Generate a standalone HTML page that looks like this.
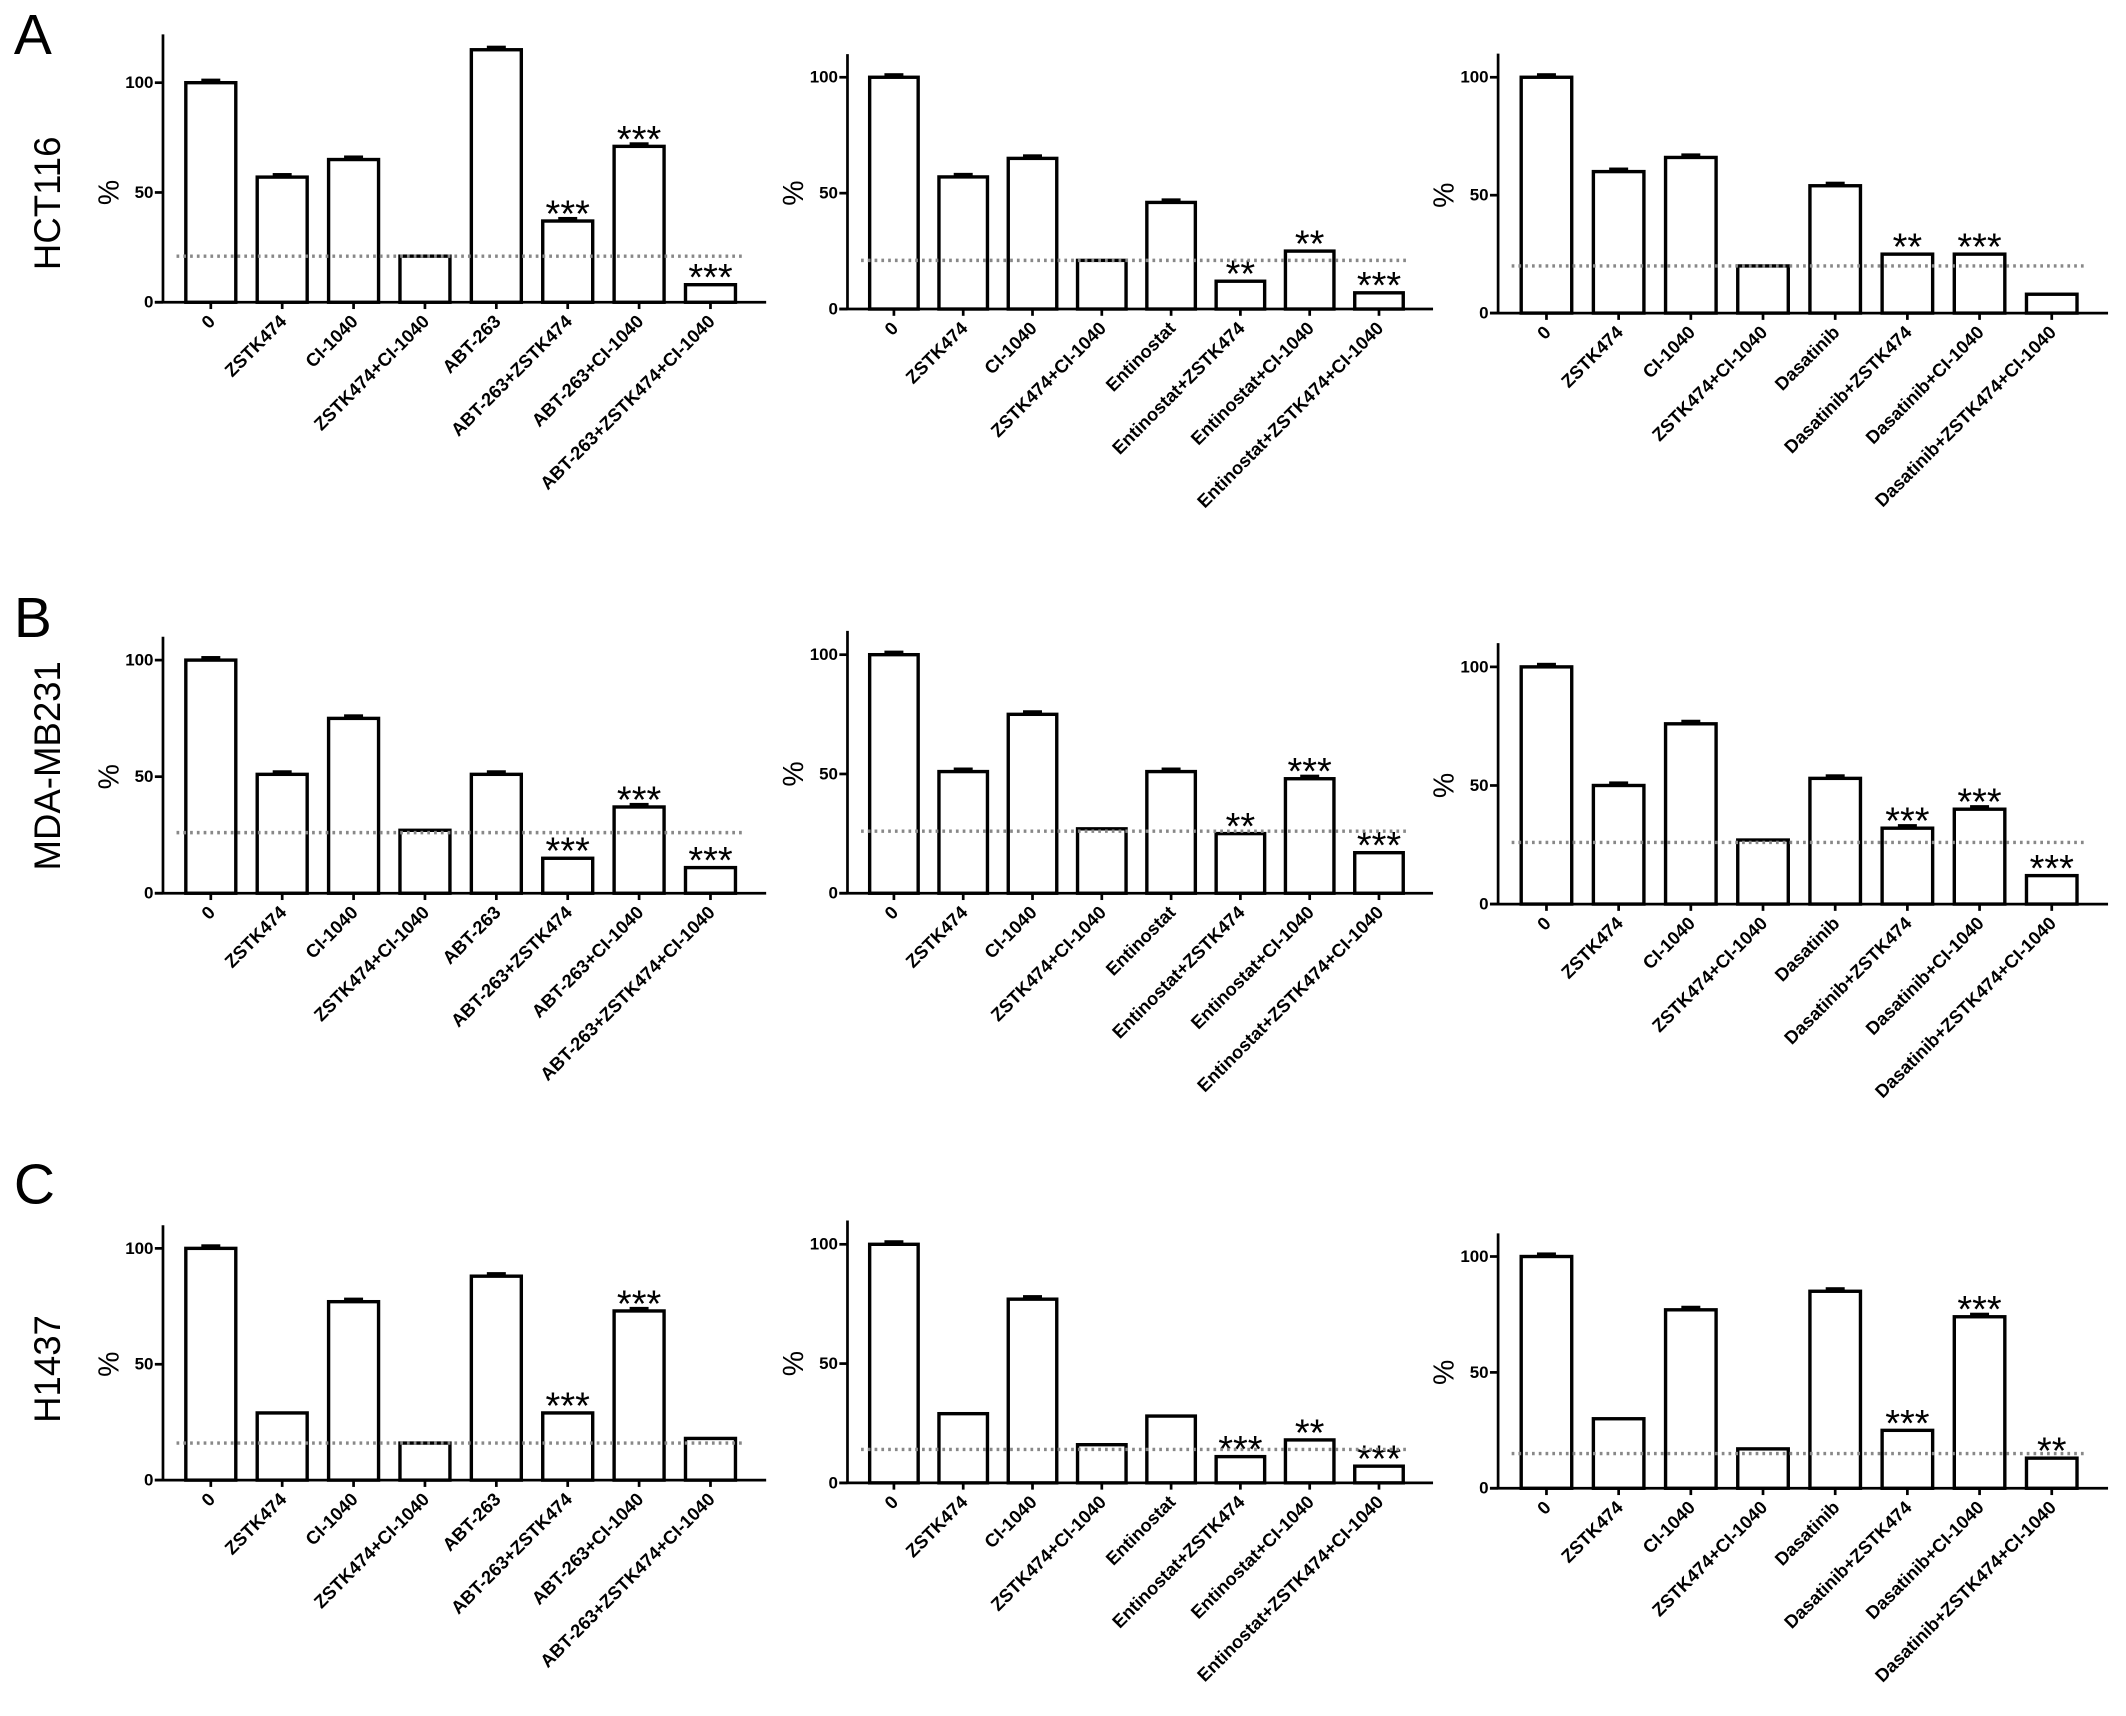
<!DOCTYPE html>
<html><head><meta charset="utf-8">
<style>html,body{margin:0;padding:0;background:#fff}svg{display:block}</style>
</head><body>
<svg id="fig" width="2126" height="1716" viewBox="0 0 1568 1266" xmlns="http://www.w3.org/2000/svg" font-family="Liberation Sans, sans-serif">
<rect width="1568" height="1266" fill="#fff"/>
<text x="10" y="40" font-size="42">A</text>
<text x="10" y="470" font-size="42">B</text>
<text x="10" y="888" font-size="42">C</text>
<text transform="translate(44,150) rotate(-90)" text-anchor="middle" font-size="27">HCT116</text>
<text transform="translate(44,565) rotate(-90)" text-anchor="middle" font-size="27">MDA-MB231</text>
<text transform="translate(44,1010) rotate(-90)" text-anchor="middle" font-size="27">H1437</text>
</svg>
<script>
const catsABT = ["0","ZSTK474","CI-1040","ZSTK474+CI-1040","ABT-263","ABT-263+ZSTK474","ABT-263+CI-1040","ABT-263+ZSTK474+CI-1040"];
const catsEnt = ["0","ZSTK474","CI-1040","ZSTK474+CI-1040","Entinostat","Entinostat+ZSTK474","Entinostat+CI-1040","Entinostat+ZSTK474+CI-1040"];
const catsDas = ["0","ZSTK474","CI-1040","ZSTK474+CI-1040","Dasatinib","Dasatinib+ZSTK474","Dasatinib+CI-1040","Dasatinib+ZSTK474+CI-1040"];
const yTicks = [0, 50, 100];

const valsA1 = [100,57,65,21,115,37,71,8];
const valsA2 = [100,57,65,21,46,12,25,7];
const valsA3 = [100,60,66,20,54,25,25,8];
const valsB1 = [100,51,75,27,51,15,37,11];
const valsB2 = [100,51,75,27,51,25,48,17];
const valsB3 = [100,50,76,27,53,32,40,12];
const valsC1 = [100,29,77,16,88,29,73,18];
const valsC2 = [100,29,77,16,28,11,18,7];
const valsC3 = [100,30,77,17,85,25,74,13];

const starsA1 = ["","","","","","***","***","***"];
const starsA2 = ["","","","","","**","**","***"];
const starsA3 = ["","","","","","**","***",""];
const starsB1 = ["","","","","","***","***","***"];
const starsB2 = ["","","","","","**","***","***"];
const starsB3 = ["","","","","","***","***","***"];
const starsC1 = ["","","","","","***","***",""];
const starsC2 = ["","","","","","***","**","***"];
const starsC3 = ["","","","","","***","***","**"];

const thresholds = [21,21,20,26,26,26,16,14,15];

const svg = document.getElementById('fig');
const NS = 'http://www.w3.org/2000/svg';
function mk(tag, attrs, parent){const e=document.createElementNS(NS,tag);for(const k in attrs)e.setAttribute(k,attrs[k]);parent.appendChild(e);return e;}

const panels = [
 {id:'a1',ax:120,y0:223,y100:61,ymax:122,w:445,cats:catsABT,vals:valsA1,stars:starsA1,th:thresholds[0]},
 {id:'a2',ax:625,y0:228,y100:57,ymax:110,w:432,cats:catsEnt,vals:valsA2,stars:starsA2,th:thresholds[1]},
 {id:'a3',ax:1105,y0:231,y100:57,ymax:110,w:450,cats:catsDas,vals:valsA3,stars:starsA3,th:thresholds[2]},
 {id:'b1',ax:120,y0:659,y100:487,ymax:110,w:445,cats:catsABT,vals:valsB1,stars:starsB1,th:thresholds[3]},
 {id:'b2',ax:625,y0:659,y100:483,ymax:110,w:432,cats:catsEnt,vals:valsB2,stars:starsB2,th:thresholds[4]},
 {id:'b3',ax:1105,y0:667,y100:492,ymax:110,w:450,cats:catsDas,vals:valsB3,stars:starsB3,th:thresholds[5]},
 {id:'c1',ax:120,y0:1092,y100:921,ymax:110,w:445,cats:catsABT,vals:valsC1,stars:starsC1,th:thresholds[6]},
 {id:'c2',ax:625,y0:1094,y100:918,ymax:110,w:432,cats:catsEnt,vals:valsC2,stars:starsC2,th:thresholds[7]},
 {id:'c3',ax:1105,y0:1098,y100:927,ymax:110,w:450,cats:catsDas,vals:valsC3,stars:starsC3,th:thresholds[8]},
];

panels.forEach(p=>{
  const g = mk('g',{},svg);
  
  
  const y = v => p.y0 - (p.y0-p.y100)*v/100;
  const step = p.w/8.45;
  const x = i => p.ax + step*(0.67+i);
  const bw = step*0.7;
  const ya = mk('line',{x1:p.ax,y1:y(p.ymax),x2:p.ax,y2:p.y0,stroke:'#000','stroke-width':2},g);
  
  
  const xa = mk('line',{x1:p.ax-6,y1:p.y0,x2:p.ax+p.w,y2:p.y0,stroke:'#000','stroke-width':2},g);
  
  
  yTicks.forEach(t=>{
    mk('line',{x1:p.ax-6,y1:y(t),x2:p.ax,y2:y(t),stroke:'#000','stroke-width':2},g);
    const tl = mk('text',{x:p.ax-7,y:y(t)+4,'text-anchor':'end','font-size':12.5,'font-weight':'bold'},g);
    tl.textContent = t;
    
    
  });
  const yl = mk('text',{transform:`translate(${p.ax-33},${(p.y0+p.y100)/2}) rotate(-90)`,'text-anchor':'middle','font-size':21},g);
  yl.textContent='%';
  
  
  p.vals.forEach((v,i)=>{
    const cx = x(i);
    const b = mk('rect',{x:cx-bw/2,y:y(v),width:bw,height:p.y0-y(v),fill:'#fff',stroke:'#000','stroke-width':2.5},g);
    
    
    if(v>30){mk('rect',{x:cx-7,y:y(v)-3,width:14,height:3,fill:'#000'},g);}
    mk('line',{x1:cx,y1:p.y0,x2:cx,y2:p.y0+5,stroke:'#000','stroke-width':2},g);
    const lab = mk('text',{transform:`translate(${cx+4},${p.y0+15}) rotate(-45)`,'text-anchor':'end','font-size':13.5,'font-weight':'bold'},g);
    lab.textContent = p.cats[i];
    
    
    if(p.stars[i]){
      const s = mk('text',{x:cx,y:y(v)+4,'text-anchor':'middle','font-size':28},g);
      s.textContent = p.stars[i];
      
      
    }
  });
  const th = mk('line',{x1:p.ax+10,y1:y(p.th),x2:p.ax+p.w-18,y2:y(p.th),stroke:'#888','stroke-width':2.5,'stroke-dasharray':'2 3'},g);
  
  
});
</script>
</body></html>
